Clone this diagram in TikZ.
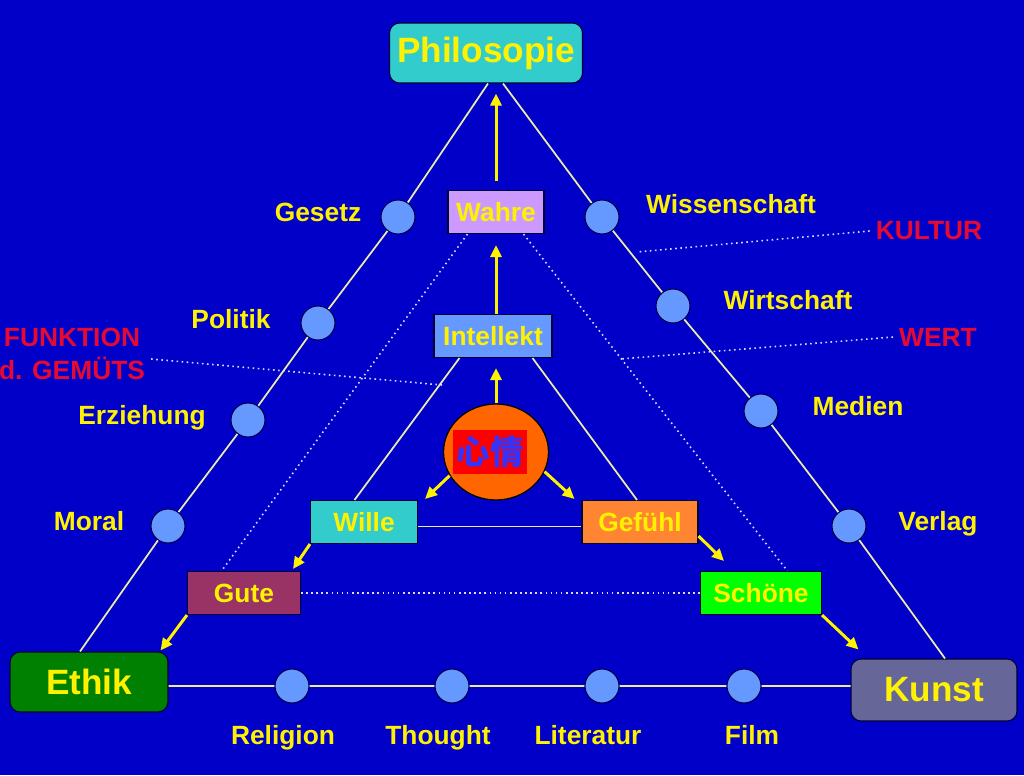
\documentclass[tikz,border=0pt]{standalone}
\usepackage{fontspec}
\setmainfont{Liberation Sans}
\newfontfamily\cjk{Noto Sans CJK SC}
\usetikzlibrary{arrows.meta,shapes.geometric}

\definecolor{slide}{RGB}{0,0,200}
\definecolor{teal}{RGB}{51,204,204}
\definecolor{lilac}{RGB}{204,153,255}
\definecolor{sky}{RGB}{102,153,255}
\definecolor{heartorange}{RGB}{255,102,0}
\definecolor{feelorange}{RGB}{255,133,51}
\definecolor{wine}{RGB}{153,51,102}
\definecolor{lime}{RGB}{0,255,0}
\definecolor{forest}{RGB}{0,128,0}
\definecolor{slate}{RGB}{102,102,153}
\definecolor{crimson}{RGB}{230,10,50}
\definecolor{inkblue}{RGB}{51,51,255}
\definecolor{pale}{RGB}{235,235,170}

\newcommand\smallbold{\bfseries\fontsize{15}{18.5}\selectfont}
\newcommand\bigbold{\bfseries\fontsize{20}{24}\selectfont}

\begin{document}
\begin{tikzpicture}[x=0.02cm,y=-0.02cm,
    box/.style={draw=black!80!blue, line width=0.6pt, text=yellow, font=\smallbold,
        inner sep=0pt, minimum height=8.6mm},
    bigbox/.style={box, rounded corners=2mm, font=\bigbold},
    dot/.style={circle, draw=black!70!blue, line width=0.6pt, fill=sky,
        minimum size=6.8mm, inner sep=0pt},
    lbl/.style={text=yellow, font=\smallbold, text height=11pt, text depth=3pt},
    redlbl/.style={text=crimson, font=\smallbold, align=center},
    link/.style={draw=pale, line width=1pt},
    dotline/.style={draw=white!85!blue, dotted, line width=0.9pt},
    push/.style={draw=yellow, line width=1.7pt, -{Triangle[length=2.4mm,width=2.2mm]}}
]
    \useasboundingbox (0,0) rectangle (1024,775);
    \clip (0,0) rectangle (1024,775);
    \fill[slide] (0,0) rectangle (1024,775);

    % corners
    \node[bigbox, fill=teal, minimum width=38.6mm, minimum height=12mm] (phil) at (486,53) {Philosopie};
    \node[bigbox, fill=forest, minimum width=31.6mm, minimum height=12mm] (ethik) at (89,682) {Ethik};
    \node[bigbox, fill=slate, minimum width=33.2mm, minimum height=12.4mm] (kunst) at (934,690) {Kunst};

    % inner boxes
    \node[box, fill=lilac, minimum width=19.2mm] (wahre) at (496,212) {Wahre};
    \node[box, fill=sky, minimum width=23.6mm] (intel) at (493,336) {Intellekt};
    \node[ellipse, draw=black, line width=0.7pt, fill=heartorange,
        minimum width=21mm, minimum height=19.2mm] (heart) at (496,452) {};
    \node[fill=red, text=inkblue, font=\cjk\bfseries\fontsize{19}{23}\selectfont,
        minimum width=15mm, minimum height=8.8mm, inner sep=0pt] (xinqing) at (490,452) {心情};
    \node[box, fill=teal, minimum width=21.4mm] (wille) at (364,522) {Wille};
    \node[box, fill=feelorange, minimum width=23.2mm] (gef) at (640,522) {Gefühl};
    \node[box, fill=wine, minimum width=22.6mm] (gute) at (244,593) {Gute};
    \node[box, fill=lime, minimum width=24.2mm] (schone) at (761,593) {Schöne};

    % circles on the sides
    \node[dot] (ges) at (398,217) {};
    \node[dot] (pol) at (318,323) {};
    \node[dot] (erz) at (248,420) {};
    \node[dot] (mor) at (168,526) {};
    \node[dot] (wis) at (602,217) {};
    \node[dot] (wir) at (673,306) {};
    \node[dot] (med) at (761,411) {};
    \node[dot] (ver) at (849,526) {};
    \node[dot] (rel) at (292,686) {};
    \node[dot] (tho) at (452,686) {};
    \node[dot] (lit) at (602,686) {};
    \node[dot] (fil) at (744,686) {};

    \draw[link] ([xshift=0.4mm]phil.south) -- (ges) -- (pol) -- (erz) -- (mor) -- ([xshift=-1.8mm]ethik.north);
    \draw[link] ([xshift=3.4mm]phil.south) -- (wis) -- (wir) -- (med) -- (ver) -- ([xshift=2.2mm]kunst.north);
    \draw[link] ([yshift=-0.8mm]ethik.east) -- (rel) -- (tho) -- (lit) -- (fil) -- ([yshift=0.8mm]kunst.west);

    % labels
    \node[lbl] at (318,214) {Gesetz};
    \node[lbl] at (231,321) {Politik};
    \node[lbl] at (142,417) {Erziehung};
    \node[lbl] at (89,523) {Moral};
    \node[lbl] at (731,206) {Wissenschaft};
    \node[lbl] at (788,302) {Wirtschaft};
    \node[lbl] at (858,408) {Medien};
    \node[lbl] at (938,523) {Verlag};
    \node[lbl] at (283,737) {Religion};
    \node[lbl] at (438,737) {Thought};
    \node[lbl] at (588,737) {Literatur};
    \node[lbl] at (752,737) {Film};

    \node[redlbl] (kultur) at (929,231) {KULTUR};
    \node[redlbl] (wert) at (938,337) {WERT};
    \node[redlbl] (funk) at (72,354) {FUNKTION\\d. GEMÜTS};
    \coordinate (kulturend) at (637,252);
    \coordinate (wertend) at (620,359);
    \coordinate (funkend) at (442,385);

    % thin connections
    \draw[link] ([xshift=5.2mm]intel.south west) -- ([xshift=-1.9mm]wille.north);
    \draw[link] ([xshift=-4mm]intel.south east) -- ([xshift=-0.6mm]gef.north);
    \draw[link] ([yshift=-0.9mm]wille.east) -- ([yshift=-0.9mm]gef.west);

    \draw[dotline] ([xshift=4mm]wahre.south west) -- ([xshift=-4.5mm]gute.north);
    \draw[dotline] ([xshift=-4.2mm]wahre.south east) -- ([xshift=5.3mm]schone.north);
    \draw[dotline] (gute.east) -- (schone.west);
    \draw[dotline] (kultur.west) -- (kulturend);
    \draw[dotline] (wert.west) -- (wertend);
    \draw[dotline] ([yshift=-1mm]funk.east) -- (funkend);

    % arrows
    \draw[push, shorten <=1.8mm, shorten >=2mm] (wahre.north) -- (wahre.north |- phil.south);
    \draw[push, shorten >=2.2mm] (wahre.south |- intel.north) -- (wahre.south);
    \draw[push, shorten >=2mm] (heart.north) -- (heart.north |- intel.south);
    \draw[push] (heart.207) -- ([xshift=1.4mm,yshift=0.2mm]wille.north east);
    \draw[push] (heart.338) -- ([xshift=-1.4mm,yshift=0.2mm]gef.north west);
    \draw[push] (wille.south west) -- ([xshift=-1.6mm,yshift=0.4mm]gute.north east);
    \draw[push] ([yshift=1.6mm]gef.south east) -- ([xshift=4.8mm,yshift=2mm]schone.north west);
    \draw[push] (gute.south west) -- ([xshift=-1.6mm,yshift=0.2mm]ethik.north east);
    \draw[push] (schone.south east) -- ([xshift=1.6mm,yshift=1.8mm]kunst.north west);
\end{tikzpicture}
\end{document}
